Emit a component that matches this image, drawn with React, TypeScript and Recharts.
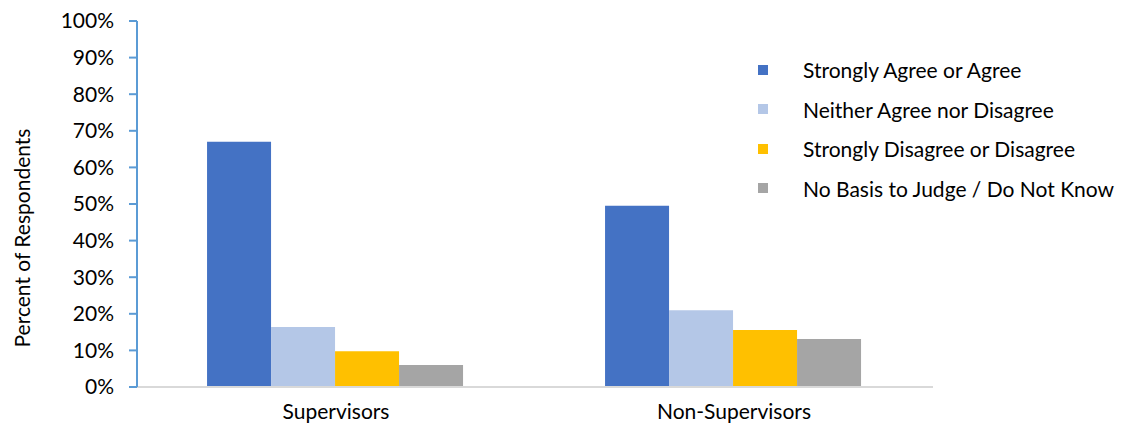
import React from "react";
import {
  BarChart,
  Bar,
  XAxis,
  YAxis,
  Legend,
  Label,
} from "recharts";

const groups = ["Supervisors", "Non-Supervisors"];
const agree = [67, 49.5];
const neither = [16.4, 21];
const disagree = [9.8, 15.6];
const noBasis = [6, 13.1];
const yTicks = [0, 10, 20, 30, 40, 50, 60, 70, 80, 90, 100];

const seriesNames = [
  "Strongly Agree or Agree",
  "Neither Agree nor Disagree",
  "Strongly Disagree or Disagree",
  "No Basis to Judge / Do Not Know",
];
const seriesColors = ["#4472C4", "#B4C7E7", "#FFC000", "#A5A5A5"];

const data = groups.map((g, i) => ({
  group: g,
  agree: agree[i],
  neither: neither[i],
  disagree: disagree[i],
  noBasis: noBasis[i],
}));

const FONT = "Lato, 'Open Sans', sans-serif";
const FS = 21;

function LegendBox() {
  return (
    <div style={{ fontFamily: FONT, fontSize: FS, color: "#000" }}>
      {seriesNames.map((name, i) => (
        <div
          key={name}
          style={{ display: "flex", alignItems: "center", height: 39.5 }}
        >
          <span
            style={{
              display: "inline-block",
              width: 10,
              height: 10,
              background: seriesColors[i],
              marginRight: 35,
            }}
          />
          <span>{name}</span>
        </div>
      ))}
    </div>
  );
}

export default function App() {
  const keys = ["agree", "neither", "disagree", "noBasis"];
  return (
    <div style={{ position: "absolute", left: 0, top: 0, background: "#fff" }}>
      <BarChart
        width={1126}
        height={429}
        data={data}
        margin={{ top: 21, right: 193, bottom: 12, left: 0 }}
        barCategoryGap="17.6%"
        barGap={0}
      >
        <XAxis
          dataKey="group"
          axisLine={{ stroke: "#D9D9D9", strokeWidth: 2 }}
          tickLine={false}
          tickSize={0}
          tickMargin={17}
          height={30}
          tick={{ fill: "#000", fontSize: FS, fontFamily: FONT }}
        />
        <YAxis
          domain={[0, 100]}
          ticks={yTicks}
          interval={0}
          width={137}
          tickFormatter={(v: number) => `${v}%`}
          axisLine={{ stroke: "#5B9BD5", strokeWidth: 2 }}
          tickLine={{ stroke: "#5B9BD5", strokeWidth: 2 }}
          tickSize={8}
          tickMargin={15}
          tick={{ fill: "#000", fontSize: FS, fontFamily: FONT }}
        >
          <Label
            content={() => (
              <text
                x={21}
                y={238}
                transform="rotate(-90 21 238)"
                textAnchor="middle"
                dominantBaseline="central"
                fontSize={FS}
                fontFamily={FONT}
                fill="#000"
              >
                Percent of Respondents
              </text>
            )}
          />
        </YAxis>
        {/* middle/center keeps the legend from shrinking the plot area */}
        <Legend
          content={() => <LegendBox />}
          layout="horizontal"
          verticalAlign="middle"
          align="center"
          wrapperStyle={{ left: 758, top: 50, width: 368 }}
        />
        {keys.map((k, i) => (
          <Bar
            key={k}
            dataKey={k}
            name={seriesNames[i]}
            fill={seriesColors[i]}
            isAnimationActive={false}
          />
        ))}
      </BarChart>
    </div>
  );
}
